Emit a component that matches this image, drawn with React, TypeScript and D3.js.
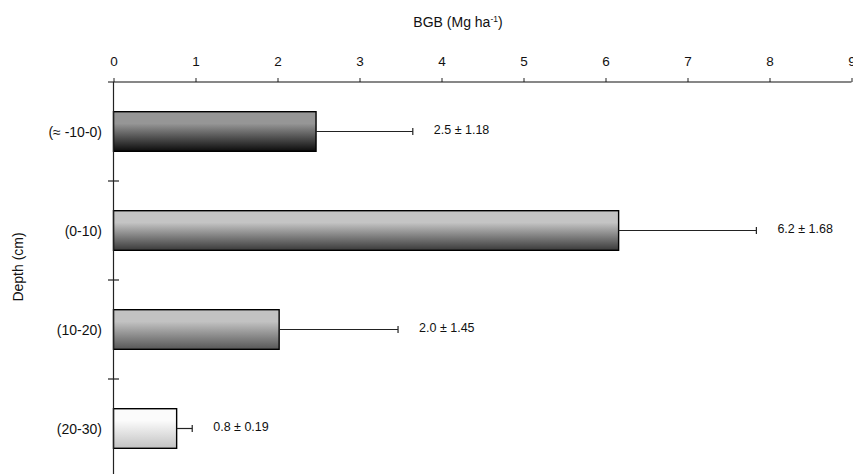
import React, { useEffect, useRef } from 'react';
import * as d3 from 'd3';

const depths = ['(≈ -10-0)', '(0-10)', '(10-20)', '(20-30)'];
const bgb = [2.47, 6.16, 2.02, 0.77];
const sd = [1.18, 1.68, 1.45, 0.19];
const valueLabels = ['2.5 ± 1.18', '6.2 ± 1.68', '2.0 ± 1.45', '0.8 ± 0.19'];
const xTicks = [0, 1, 2, 3, 4, 5, 6, 7, 8, 9];

// top / bottom shades of each bar's gradient
const shadeTop = ['#969696', '#c4c4c4', '#c2c2c2', '#fbfbfb'];
const shadeBottom = ['#0c0c0c', '#3a3a3a', '#575757', '#c2c2c2'];

const App = () => {
  const svgRef = useRef<SVGSVGElement>(null);

  useEffect(() => {
    const width = 853;
    const height = 474;
    const font = 'Arial, "Liberation Sans", sans-serif';

    const svg = d3.select(svgRef.current)
      .attr('width', width)
      .attr('height', height);
    svg.selectAll('*').remove();

    const x = d3.scaleLinear().domain([0, 9]).range([113.5, 851.5]);
    const y = d3.scaleBand()
      .domain(depths)
      .range([82, 478])
      .paddingInner(0.6)
      .paddingOuter(0.3);

    const defs = svg.append('defs');
    depths.forEach((d, i) => {
      const g = defs.append('linearGradient')
        .attr('id', `grad${i}`)
        .attr('x1', 0).attr('y1', 0).attr('x2', 0).attr('y2', 1);
      g.append('stop').attr('offset', '0%').attr('stop-color', shadeTop[i]);
      g.append('stop').attr('offset', '30%').attr('stop-color', shadeTop[i]);
      g.append('stop').attr('offset', '100%').attr('stop-color', shadeBottom[i]);
    });

    // bars
    svg.selectAll('rect.bar')
      .data(depths)
      .enter().append('rect')
      .attr('class', 'bar')
      .attr('x', x(0))
      .attr('y', d => y(d)!)
      .attr('width', (d, i) => x(bgb[i]) - x(0))
      .attr('height', y.bandwidth())
      .attr('fill', (d, i) => `url(#grad${i})`)
      .attr('stroke', '#000')
      .attr('stroke-width', 1.4);

    // error bars
    const eb = svg.append('g').attr('stroke', '#222').attr('stroke-width', 1.2);
    depths.forEach((d, i) => {
      const cy = y(d)! + y.bandwidth() / 2;
      eb.append('line')
        .attr('x1', x(bgb[i])).attr('x2', x(bgb[i] + sd[i]))
        .attr('y1', cy).attr('y2', cy);
      eb.append('line')
        .attr('x1', x(bgb[i] + sd[i])).attr('x2', x(bgb[i] + sd[i]))
        .attr('y1', cy - 3.5).attr('y2', cy + 3.5);
      svg.append('text')
        .attr('x', x(bgb[i] + sd[i]) + 21)
        .attr('y', cy - 2)
        .attr('dy', '0.35em')
        .attr('font-family', font)
        .attr('font-size', 12.5)
        .attr('fill', '#111')
        .text(valueLabels[i]);
    });

    // top axis
    const xAxis = svg.append('g')
      .attr('transform', 'translate(0, 82)')
      .call(d3.axisTop(x).tickValues(xTicks).tickSize(4).tickPadding(12).tickFormat(d3.format('d')));
    xAxis.select('.domain').remove();
    xAxis.selectAll('.tick line').attr('stroke', '#222');
    xAxis.selectAll('text')
      .attr('font-family', font)
      .attr('font-size', 13.5)
      .attr('fill', '#111');
    svg.append('line')
      .attr('x1', 108).attr('x2', x(9))
      .attr('y1', 82).attr('y2', 82)
      .attr('stroke', '#111').attr('stroke-width', 1.2);

    // left axis
    svg.append('line')
      .attr('x1', x(0)).attr('x2', x(0))
      .attr('y1', 82).attr('y2', height)
      .attr('stroke', '#222').attr('stroke-width', 1.2);
    const step = y.step();
    depths.slice(0, -1).forEach(d => {
      const by = y(d)! + y.bandwidth() + step * 0.3;
      svg.append('line')
        .attr('x1', x(0) - 5.5).attr('x2', x(0) + 5.5)
        .attr('y1', by).attr('y2', by)
        .attr('stroke', '#222').attr('stroke-width', 1.2);
    });
    svg.selectAll('text.cat')
      .data(depths)
      .enter().append('text')
      .attr('class', 'cat')
      .attr('x', 102)
      .attr('y', d => y(d)! + y.bandwidth() / 2 + 1)
      .attr('dy', '0.35em')
      .attr('text-anchor', 'end')
      .attr('font-family', font)
      .attr('font-size', 14)
      .attr('fill', '#111')
      .text(d => d);

    // axis titles
    const title = svg.append('text')
      .attr('x', 458)
      .attr('y', 27)
      .attr('text-anchor', 'middle')
      .attr('font-family', font)
      .attr('font-size', 14)
      .attr('fill', '#111');
    title.append('tspan').text('BGB (Mg ha');
    title.append('tspan').attr('font-size', 8.5).attr('dy', -5).text('-1');
    title.append('tspan').attr('dy', 5).text(')');

    svg.append('text')
      .attr('transform', 'rotate(-90)')
      .attr('x', -267)
      .attr('y', 18)
      .attr('dy', '0.35em')
      .attr('text-anchor', 'middle')
      .attr('font-family', font)
      .attr('font-size', 14)
      .attr('fill', '#111')
      .text('Depth (cm)');
  }, []);

  return (
    <svg ref={svgRef} style={{ position: 'absolute', left: 0, top: 0, background: '#fff' }}></svg>
  );
};

export default App;
